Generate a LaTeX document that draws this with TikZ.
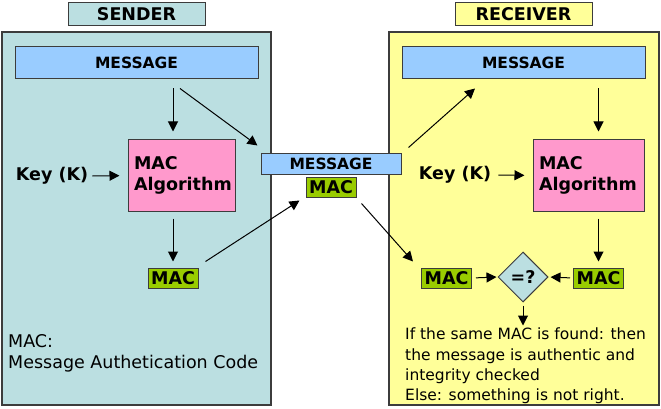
\documentclass[tikz,border=0pt]{standalone}
\usepackage{fontspec}
\setmainfont{DejaVu Sans}
\usepackage{tikz}
\usetikzlibrary{positioning}
\usetikzlibrary{arrows.meta}
\usetikzlibrary{calc}
\usetikzlibrary{shapes.geometric}

\definecolor{sendbg}{RGB}{187,223,225}
\definecolor{recvbg}{RGB}{255,255,153}
\definecolor{msgblue}{RGB}{153,204,255}
\definecolor{algpink}{RGB}{255,153,204}
\definecolor{macgreen}{RGB}{153,204,0}
\definecolor{edgegray}{RGB}{60,60,60}

\tikzset{
  panel/.style={draw=edgegray, line width=1.2pt, inner sep=0pt},
  titlebox/.style={draw=edgegray, line width=1pt, minimum width=137pt, minimum height=23pt, inner sep=0pt, font=\fontsize{17.5}{19}\selectfont\bfseries},
  msgbox/.style={draw=edgegray, line width=1pt, fill=msgblue, inner sep=0pt, font=\fontsize{15.5}{17}\selectfont\bfseries},
  algbox/.style={draw=edgegray, line width=1pt, fill=algpink, minimum height=71pt, inner xsep=6pt, inner ysep=0pt, align=left, font=\fontsize{17.5}{21}\selectfont\bfseries},
  macbox/.style={draw=edgegray, line width=1pt, fill=macgreen, minimum width=50pt, minimum height=20pt, inner sep=0pt, font=\fontsize{17.5}{20}\selectfont\bfseries},
  keytext/.style={inner sep=0pt, font=\fontsize{17.5}{20}\selectfont\bfseries},
  flow/.style={->, >={Triangle[length=10pt,width=10pt]}, line width=1pt}
}

\begin{document}
\begin{tikzpicture}[x=1pt, y=-1pt]
  \useasboundingbox (0,0) rectangle (661,409);

  % the two panels
  \node[titlebox, fill=sendbg] (stitle) at (136.5,14.5) {SENDER};
  \node[panel, fill=sendbg, minimum width=269pt, minimum height=373pt] (spanel) at (136.5,218.5) {};
  \node[titlebox, fill=recvbg] (rtitle) at (523.5,14.5) {RECEIVER};
  \node[panel, fill=recvbg, minimum width=270pt, minimum height=373pt] (rpanel) at (524,218.5) {};

  % sender side
  \node[msgbox, minimum width=243pt, minimum height=32pt] (smsg) at (136.5,63) {MESSAGE};
  \node[algbox, text width=95pt] (salg) at (181.5,175.5) {MAC\\Algorithm};
  \node[keytext] (skey) at (52,176) {Key (K)};
  \node[macbox] (smac) at (173,278) {MAC};
  \node[inner sep=0pt, anchor=west, align=left, font=\fontsize{17.5}{21.5}\selectfont] (snote) at (8,353.5) {MAC:\\Message Authetication Code};

  % in transit
  \node[msgbox, minimum width=140pt, minimum height=21pt] (cmsg) at (331,163.5) {MESSAGE};
  \node[macbox] (cmac) at (331,187) {MAC};

  % receiver side
  \node[msgbox, minimum width=243pt, minimum height=32pt] (rmsg) at (523.5,63) {MESSAGE};
  \node[algbox, text width=99pt] (ralg) at (588.5,175.5) {MAC\\Algorithm};
  \node[keytext] (rkey) at (455,175) {Key (K)};
  \node[macbox] (rmacr) at (598.5,278) {MAC};
  \node[macbox] (rmacl) at (446.5,278) {MAC};
  \node[diamond, draw=edgegray, line width=1pt, fill=sendbg, minimum width=50pt, minimum height=50pt, inner sep=0pt, font=\fontsize{17.5}{20}\selectfont\bfseries] (cmp) at (523,277) {=?};
  \node[inner sep=0pt, anchor=west, align=left, font=\fontsize{15.5}{20.2}\selectfont] (rnote) at (405,366) {If the same MAC is found: then\\the message is authentic and\\integrity checked\\Else: something is not right.};

  % sender arrows
  \draw[flow, shorten <=9pt, shorten >=8pt] (smsg.south -| smac) -- (salg.north -| smac);
  \draw[flow, shorten >=8pt] (skey.east) ++(4,0) -- (salg.west);
  \draw[flow, shorten <=7pt, shorten >=6pt] (salg.south -| smac) -- (smac.north);
  \draw[flow] ($(smsg.south)+(43.5,9)$) -- ($(cmsg.north west)+(-3,-7)$);
  \draw[flow] ($(smac.north east)+(7,-6)$) -- ($(cmac.south west)+(-6,3)$);

  % receiver arrows
  \draw[flow] ($(cmsg.north east)+(7,-5)$) -- ($(rmsg.south)+(-48.5,9)$);
  \draw[flow] ($(cmac.south east)+(5,6)$) -- ($(rmacl.north west)+(-8,-6)$);
  \draw[flow, shorten <=9pt, shorten >=8pt] (rmsg.south -| rmacr) -- (ralg.north -| rmacr);
  \draw[flow, shorten >=8pt] (rkey.east) ++(7,0) -- (ralg.west);
  \draw[flow, shorten <=7pt, shorten >=6pt] (ralg.south -| rmacr) -- (rmacr.north);
  \draw[flow, shorten <=4pt, shorten >=1pt] (rmacl.east) -- (cmp.west);
  \draw[flow, shorten <=3pt, shorten >=2pt] (rmacr.west) -- (cmp.east);
  \draw[flow, shorten <=3pt] (cmp.south) -- ++(0,23);
\end{tikzpicture}
\end{document}
